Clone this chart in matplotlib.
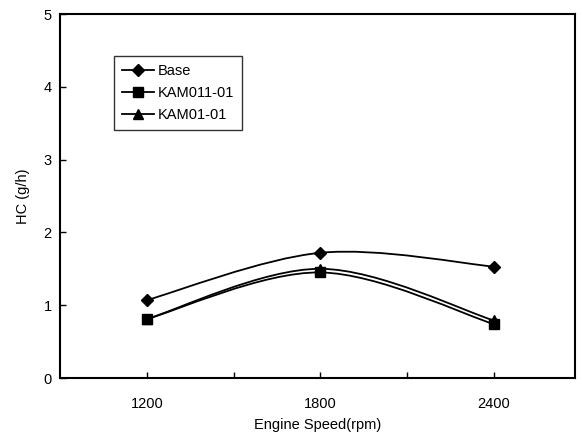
import matplotlib
matplotlib.use("Agg")
import matplotlib.pyplot as plt
from matplotlib.path import Path
from matplotlib.patches import PathPatch
from matplotlib.lines import Line2D
import numpy as np

speeds = [1200, 1800, 2400]
base = [1.07, 1.72, 1.53]
kam011 = [0.81, 1.45, 0.74]
kam01 = [0.81, 1.50, 0.79]
series_names = ["Base", "KAM011-01", "KAM01-01"]
markers = ["D", "s", "^"]
msizes = [6, 7, 7]

plt.rcParams['font.family'] = ['Liberation Sans', 'DejaVu Sans']

fig = plt.figure(figsize=(5.82, 4.36), dpi=100)
ax = fig.add_axes([60/582, 1-378/436, (575-60)/582, (378-14)/436])

def smooth_path(xs, ys):
    pts = np.column_stack([xs, ys]).astype(float)
    n = len(pts)
    verts = [pts[0]]
    codes = [Path.MOVETO]
    for i in range(n-1):
        p0 = pts[i-1] if i > 0 else pts[i]
        p1 = pts[i]
        p2 = pts[i+1]
        p3 = pts[i+2] if i+2 < n else pts[i+1]
        c1 = p1 + (p2 - p0)/6
        c2 = p2 - (p3 - p1)/6
        verts += [c1, c2, p2]
        codes += [Path.CURVE4]*3
    return Path(verts, codes)

handles = []
for vals, name, m, ms in zip([base, kam011, kam01], series_names, markers, msizes):
    ax.add_patch(PathPatch(smooth_path(speeds, vals), fill=False, edgecolor='black', lw=1.3))
    ax.plot(speeds, vals, linestyle='none', marker=m, markersize=ms, color='black')
    handles.append(Line2D([], [], color='black', lw=1.3, marker=m, markersize=ms))

ax.set_xlim(900, 2680)
ax.set_ylim(0, 5)
ax.set_xticks([1200, 1500, 1800, 2100, 2400])
ax.set_xticklabels(["1200", "", "1800", "", "2400"])
ax.set_yticks([0, 1, 2, 3, 4, 5])
ax.tick_params(axis='both', direction='in', length=4, width=1, labelsize=10.5, pad=6)
ax.tick_params(axis='x', pad=14)
for s in ax.spines.values():
    s.set_linewidth(1.5)
ax.set_xlabel("Engine Speed(rpm)", fontsize=10.5, labelpad=5)
ax.set_ylabel("HC (g/h)", fontsize=10.5, labelpad=10)

leg = ax.legend(handles, series_names, loc='upper left', bbox_to_anchor=((114-60)/515, (378-56)/364),
                frameon=True, fancybox=False, edgecolor='black', fontsize=10.5,
                handlelength=2.2, handletextpad=0.25, borderpad=0.55, labelspacing=0.55, borderaxespad=0)
leg.get_frame().set_linewidth(1.0)

fig.savefig("out.png", dpi=100)
